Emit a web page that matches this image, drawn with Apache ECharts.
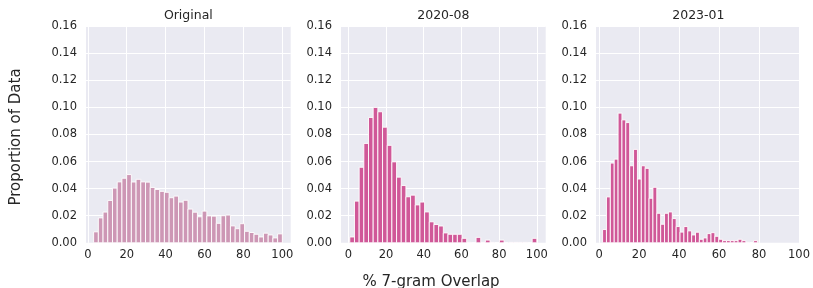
<!DOCTYPE html>
<html>
<head>
<meta charset="utf-8">
<script src="https://cdn.jsdelivr.net/npm/echarts@6/dist/echarts.min.js"></script>
<style>
  html, body { margin: 0; padding: 0; background: #fff; }
  #chart { width: 813px; height: 288px; }
</style>
</head>
<body>
<div id="chart"></div>
<script>
// panel titles
const panelTitles = ['Original', '2020-08', '2023-01'];

// histogram bin ranges (each panel: 40 equal bins between lo and hi)
const binLo = [3.0, 0.8, 1.7];
const binHi = [100, 100, 79.2];

// proportion of data per bin
const originalVals = [
  0.0081, 0.0184, 0.0227, 0.0313, 0.0404, 0.0450, 0.0477, 0.0504, 0.0449, 0.0469,
  0.0450, 0.0448, 0.0409, 0.0394, 0.0380, 0.0373, 0.0333, 0.0345, 0.0301, 0.0314,
  0.0249, 0.0226, 0.0192, 0.0234, 0.0199, 0.0197, 0.0144, 0.0200, 0.0205, 0.0125,
  0.0104, 0.0141, 0.0085, 0.0076, 0.0063, 0.0043, 0.0071, 0.0058, 0.0036, 0.0066
];
const aug2020Vals = [
  0.0043, 0.0308, 0.0558, 0.0734, 0.0926, 0.1000, 0.0968, 0.0854, 0.0720, 0.0598,
  0.0485, 0.0423, 0.0340, 0.0352, 0.0280, 0.0301, 0.0228, 0.0155, 0.0135, 0.0124,
  0.0073, 0.0063, 0.0063, 0.0063, 0.0033, 0.0003, 0.0000, 0.0040, 0.0003, 0.0020,
  0.0003, 0.0000, 0.0020, 0.0000, 0.0003, 0.0003, 0.0003, 0.0003, 0.0000, 0.0033
];
const jan2023Vals = [
  0.0098, 0.0339, 0.0589, 0.0618, 0.0958, 0.0908, 0.0888, 0.0569, 0.0690, 0.0471,
  0.0569, 0.0550, 0.0329, 0.0410, 0.0218, 0.0137, 0.0218, 0.0228, 0.0179, 0.0120,
  0.0079, 0.0120, 0.0088, 0.0058, 0.0078, 0.0026, 0.0036, 0.0068, 0.0075, 0.0048,
  0.0026, 0.0016, 0.0016, 0.0016, 0.0016, 0.0026, 0.0016, 0.0003, 0.0000, 0.0016
];

// axis ticks
const xTicks = [0, 20, 40, 60, 80, 100];

const allVals = [originalVals, aug2020Vals, jan2023Vals];
const barColors = ['#cd97b5', '#d05898', '#d05898'];
const xRanges = [[-0.92, 104.3], [-3.87, 104.7], [-1.6, 100]];
const gridLefts = [86, 341, 596];
const GRID_W = 204.7;
const FONT = 'DejaVu Sans';
const TEXT = '#262626';

const chart = echarts.init(document.getElementById('chart'));

function binData(vals, lo, hi) {
  const w = (hi - lo) / vals.length;
  return vals.map(function(v, i) {
    return [lo + i * w, lo + (i + 1) * w, v];
  });
}

const grids = [], xAxes = [], yAxes = [], series = [], texts = [];
for (let i = 0; i < 3; i++) {
  grids.push({ left: gridLefts[i], top: 26.2, width: GRID_W, height: 216.6,
               show: true, backgroundColor: '#eaeaf2', borderWidth: 0 });
  xAxes.push({
    type: 'value', gridIndex: i, min: xRanges[i][0], max: xRanges[i][1],
    axisLine: { show: false },
    axisTick: { show: false, customValues: xTicks },
    axisLabel: { customValues: xTicks, color: TEXT, fontFamily: FONT, fontSize: 11.5, margin: 6 },
    splitLine: { show: true, lineStyle: { color: '#fff', width: 1 } }
  });
  yAxes.push({
    type: 'value', gridIndex: i, min: 0, max: 0.16, interval: 0.02,
    axisLine: { show: false },
    axisTick: { show: false },
    axisLabel: { color: TEXT, fontFamily: FONT, fontSize: 11.5, margin: 9,
                 formatter: function(v) { return v.toFixed(2); } },
    splitLine: { show: true, lineStyle: { color: '#fff', width: 1 } }
  });
  const color = barColors[i];
  series.push({
    type: 'custom', xAxisIndex: i, yAxisIndex: i,
    data: binData(allVals[i], binLo[i], binHi[i]),
    encode: { x: [0, 1], y: 2 },
    renderItem: function(params, api) {
      const p0 = api.coord([api.value(0), api.value(2)]);
      const p1 = api.coord([api.value(1), 0]);
      return {
        type: 'rect',
        shape: { x: p0[0], y: p0[1], width: p1[0] - p0[0], height: p1[1] - p0[1] },
        style: { fill: color, stroke: '#fff', lineWidth: 0.9 }
      };
    }
  });
  // panel title
  texts.push({
    type: 'text', x: gridLefts[i] + GRID_W / 2, y: 16,
    style: { text: panelTitles[i], fontFamily: FONT, fontSize: 12.5, fill: TEXT,
             align: 'center', verticalAlign: 'middle' }
  });
}

// shared axis labels
texts.push({ type: 'text', x: 16.5, y: 137, rotation: Math.PI / 2,
  style: { text: 'Proportion of Data', fontFamily: FONT, fontSize: 15, fill: TEXT,
           align: 'center', verticalAlign: 'middle' } });
texts.push({ type: 'text', x: 431, y: 282,
  style: { text: '% 7-gram Overlap', fontFamily: FONT, fontSize: 15, fill: TEXT,
           align: 'center', verticalAlign: 'middle' } });

chart.setOption({
  animation: false,
  backgroundColor: '#fff',
  grid: grids,
  xAxis: xAxes,
  yAxis: yAxes,
  series: series,
  graphic: texts
});
</script>
</body>
</html>
